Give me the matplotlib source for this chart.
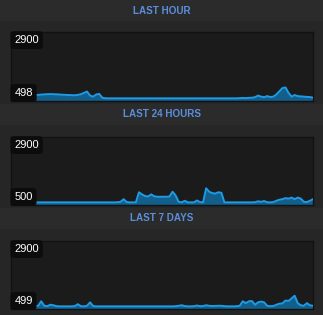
import matplotlib
matplotlib.use("Agg")
import matplotlib.pyplot as plt
from matplotlib.patches import Rectangle

titles = ["LAST HOUR", "LAST 24 HOURS", "LAST 7 DAYS"]
max_labels = ["2900", "2900", "2900"]
min_labels = ["498", "500", "499"]
y_max = 2900

hour = [560, 570, 580, 590, 600, 605, 610, 615, 620, 625,
        635, 645, 650, 655, 650, 645, 640, 630, 625, 620,
        615, 610, 625, 650, 700, 750, 600, 560, 640, 660,
        520, 498, 498, 498, 498, 498, 498, 498, 498, 498,
        498, 498, 498, 498, 498, 498, 498, 498, 498, 498,
        498, 498, 498, 498, 498, 498, 498, 498, 498, 498,
        498, 498, 498, 498, 498, 498, 498, 498, 498, 498,
        498, 498, 498, 498, 498, 505, 510, 505, 515, 520,
        540, 600, 560, 540, 580, 545, 560, 640, 760, 880,
        900, 700, 560, 620, 580, 570, 560, 550, 545, 520]

day = [500, 500, 500, 500, 500, 500, 500, 500, 500, 500,
       500, 500, 500, 500, 500, 500, 500, 500, 500, 500,
       500, 500, 500, 500, 500, 500, 500, 500, 500, 500,
       500, 500, 500, 500, 500, 505, 520, 620, 510, 500,
       500, 500, 880, 800, 740, 720, 800, 730, 710, 710,
       710, 710, 720, 900, 760, 520, 500, 560, 500, 500,
       500, 570, 510, 500, 1030, 900, 850, 830, 880, 860,
       500, 500, 500, 500, 500, 500, 500, 500, 500, 500,
       505, 540, 520, 550, 505, 500, 510, 560, 600, 620,
       660, 640, 680, 620, 680, 640, 520, 510, 560, 620]

week = [499, 499, 499, 499, 499, 499, 499, 499, 505, 520,
        690, 520, 505, 560, 540, 505, 499, 499, 499, 499,
        499, 510, 580, 505, 499, 520, 650, 510, 499, 499,
        499, 499, 499, 499, 499, 499, 499, 499, 499, 499,
        499, 499, 499, 499, 499, 499, 499, 499, 499, 499,
        499, 499, 499, 499, 505, 520, 540, 510, 499, 499,
        505, 530, 505, 510, 540, 520, 510, 515, 520, 520,
        505, 499, 499, 499, 505, 520, 690, 620, 690, 700,
        560, 650, 680, 650, 520, 505, 510, 560, 600, 610,
        720, 700, 800, 900, 620, 540, 520, 620, 540, 520]

series = [hour, day, week]

W, H = 323, 315
fig = plt.figure(figsize=(W / 100, H / 100), dpi=100)
fig.patch.set_facecolor("#262626")

# header bands
for y0, y1 in [(0, 21), (104, 125), (208, 229)]:
    fig.patches.append(Rectangle((0, 1 - y1 / H), 1, (y1 - y0) / H,
                                 transform=fig.transFigure,
                                 facecolor="#2b2b2b", edgecolor="none", zorder=0))

title_y = [11, 114, 218]
boxes = [(32, 101), (137, 205), (241, 309)]
left, right = 10.7, 313

for k in range(3):
    fig.text(162 / W, 1 - title_y[k] / H, titles[k], ha="center", va="center",
             color="#5b8fdc", fontsize=7.1, fontweight="bold",
             family="Liberation Sans")
    top, bot = boxes[k]
    ax = fig.add_axes([left / W, 1 - bot / H, (right - left) / W, (bot - top) / H])
    ax.set_facecolor("#1b1b1b")
    for s in ax.spines.values():
        s.set_color("#121212")
        s.set_linewidth(1)
    vals = series[k]
    x = list(range(len(vals)))
    vmin = min(vals)
    ylo = vmin - 100
    ax.fill_between(x, ylo, vals, color="#125f8c", linewidth=0, zorder=2)
    ax.plot(x, vals, color="#1e9be4", linewidth=1.4, zorder=3)
    ax.set_xlim(0, len(vals) - 1)
    ax.set_ylim(ylo, y_max + 60)
    ax.set_xticks([])
    ax.set_yticks([])
    bb = dict(boxstyle="round,pad=0.35,rounding_size=0.3", fc="#0c0c0c", ec="none")
    ax.annotate(max_labels[k], xy=(0, 1), xycoords="axes fraction",
                xytext=(2.6, -2.2), textcoords="offset points", ha="left", va="top",
                color="white", fontsize=8, family="Liberation Sans",
                bbox=bb, zorder=5)
    ax.annotate(min_labels[k], xy=(0, 0), xycoords="axes fraction",
                xytext=(2.6, 2.2), textcoords="offset points", ha="left", va="bottom",
                color="white", fontsize=8, family="Liberation Sans",
                bbox=bb, zorder=5)

fig.savefig("out.png", dpi=100, facecolor=fig.get_facecolor())
